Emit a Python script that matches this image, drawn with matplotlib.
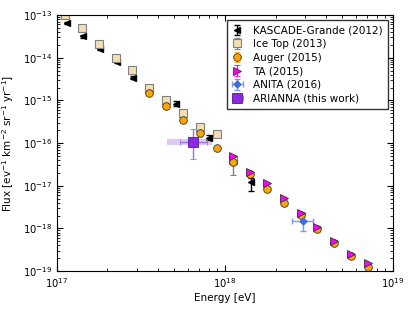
import numpy as np
import matplotlib
matplotlib.use("Agg")
import matplotlib.pyplot as plt

# log10 energy [eV] and log10 flux
kas_logE = [17.058, 17.153, 17.256, 17.355, 17.454, 17.707, 17.907, 18.153]
kas_logF = [-13.19, -13.50, -13.79, -14.10, -14.47, -15.09, -15.875, -16.91]
kas_lo = [0.03, 0.03, 0.03, 0.03, 0.04, 0.05, 0.06, 0.21]
kas_hi = [0.03, 0.03, 0.03, 0.03, 0.04, 0.07, 0.06, 0.10]

ice_logE = [17.05, 17.15, 17.25, 17.35, 17.45, 17.55, 17.65, 17.75, 17.85, 17.95, 18.05]
ice_logF = [-13.00, -13.30, -13.69, -14.00, -14.28, -14.72, -14.99, -15.29, -15.62, -15.79, -16.40]
ice_lo = [0.02, 0.02, 0.02, 0.02, 0.02, 0.02, 0.03, 0.03, 0.04, 0.05, 0.35]
ice_hi = [0.02, 0.02, 0.02, 0.02, 0.02, 0.02, 0.03, 0.03, 0.04, 0.05, 0.10]

aug_logE = [17.55, 17.65, 17.75, 17.85, 17.95, 18.05, 18.15, 18.25, 18.35,
            18.45, 18.55, 18.65, 18.75, 18.85]
aug_logF = [-14.82, -15.125, -15.46, -15.77, -16.11, -16.45, -16.73, -17.08,
            -17.40, -17.69, -18.02, -18.34, -18.65, -18.91]

ta_logE = [18.05, 18.15, 18.25, 18.35, 18.45, 18.55, 18.65, 18.75, 18.85]
ta_logF = [-16.30, -16.67, -16.945, -17.296, -17.63, -17.96, -18.30, -18.60, -18.82]

anita_logE = 18.466
anita_logF = -17.83
anita_xlim = [18.397, 18.526]
anita_ylim = [-18.05, -17.63]

ari_logE = 17.81
ari_logF = -15.97
ari_xlim = [17.732, 17.891]
ari_ylim = [-16.375, -15.68]
ari_band_x = [17.653, 17.921]
ari_band_dy = 0.075

x_decades = [17, 18, 19]
y_decades = [-19, -18, -17, -16, -15, -14, -13]


def to_lin(logv, lo, hi):
    v = 10 ** np.array(logv)
    err = [v - 10 ** (np.array(logv) - np.array(lo)), 10 ** (np.array(logv) + np.array(hi)) - v]
    return v, err


fig = plt.figure(figsize=(4.15, 3.12), dpi=100)
ax = fig.add_axes([0.137, 0.131, 0.810, 0.821])

y, ye = to_lin(kas_logF, kas_lo, kas_hi)
ax.errorbar(10 ** np.array(kas_logE), y, yerr=ye, fmt='<', color='black', mec='black', ms=5,
            elinewidth=1, capsize=2, label='KASCADE-Grande (2012)')

y, ye = to_lin(ice_logF, ice_lo, ice_hi)
ax.errorbar(10 ** np.array(ice_logE), y, yerr=ye, fmt='s', color='#f5deb3', mec='gray',
            ecolor='gray', ms=5.5, mew=0.8, elinewidth=1, capsize=2, label='Ice Top (2013)')

y, ye = to_lin(aug_logF, [0.01] * len(aug_logF), [0.01] * len(aug_logF))
ax.errorbar(10 ** np.array(aug_logE), y, yerr=ye, fmt='o', color='orange', mec='#333333',
            ecolor='orange', ms=5.5, mew=0.6, elinewidth=1, capsize=2, label='Auger (2015)')

y, ye = to_lin(ta_logF, [0.01] * len(ta_logF), [0.01] * len(ta_logF))
ax.errorbar(10 ** np.array(ta_logE), y, yerr=ye, fmt='>', color='magenta', mec='#333333',
            ecolor='magenta', ms=5.5, mew=0.6, elinewidth=1, capsize=2, label='TA (2015)')

an_E = 10 ** anita_logE
an_F = 10 ** anita_logF
ax.errorbar([an_E], [an_F],
            xerr=[[an_E - 10 ** anita_xlim[0]], [10 ** anita_xlim[1] - an_E]],
            yerr=[[an_F - 10 ** anita_ylim[0]], [10 ** anita_ylim[1] - an_F]],
            fmt='D', color='#3f6fd8', mec='#3f6fd8', ecolor='#7a9be8', ms=3.5,
            elinewidth=1, capsize=2, label='ANITA (2016)')

ar_E = 10 ** ari_logE
ar_F = 10 ** ari_logF
ax.fill_between(10 ** np.array(ari_band_x), 10 ** (ari_logF - ari_band_dy),
                10 ** (ari_logF + ari_band_dy), color='#b48ae8', alpha=0.45, lw=0)
ax.errorbar([ar_E], [ar_F],
            xerr=[[ar_E - 10 ** ari_xlim[0]], [10 ** ari_xlim[1] - ar_E]],
            yerr=[[ar_F - 10 ** ari_ylim[0]], [10 ** ari_ylim[1] - ar_F]],
            fmt='s', color='#8a2be2', mec='#5a1a9a', ecolor='#a070e0', ms=6.5, mew=0.6,
            elinewidth=1, capsize=2, label='ARIANNA (this work)')

ax.set_xscale('log')
ax.set_yscale('log')
ax.set_xticks([10.0 ** d for d in x_decades])
ax.set_yticks([10.0 ** d for d in y_decades])
ax.set_xlim(1e17, 1e19)
ax.set_ylim(1e-19, 1e-13)
ax.tick_params(which='both', direction='in', top=True, right=True, labelsize=7.2)
ax.tick_params(which='major', length=4)
ax.tick_params(which='minor', length=2)
ax.set_xlabel('Energy [eV]', fontsize=7.5, labelpad=2)
ax.set_ylabel(r'Flux [ev$^{-1}$ km$^{-2}$ sr$^{-1}$ yr$^{-1}$]', fontsize=7.5, labelpad=5)

leg = ax.legend(loc='upper right', fontsize=7.5, numpoints=1, fancybox=False,
                borderaxespad=0.5, borderpad=0.5, handlelength=1.0, handletextpad=1.0,
                labelspacing=0.35)
leg.get_frame().set_edgecolor('black')

fig.savefig('out.png', dpi=100)
